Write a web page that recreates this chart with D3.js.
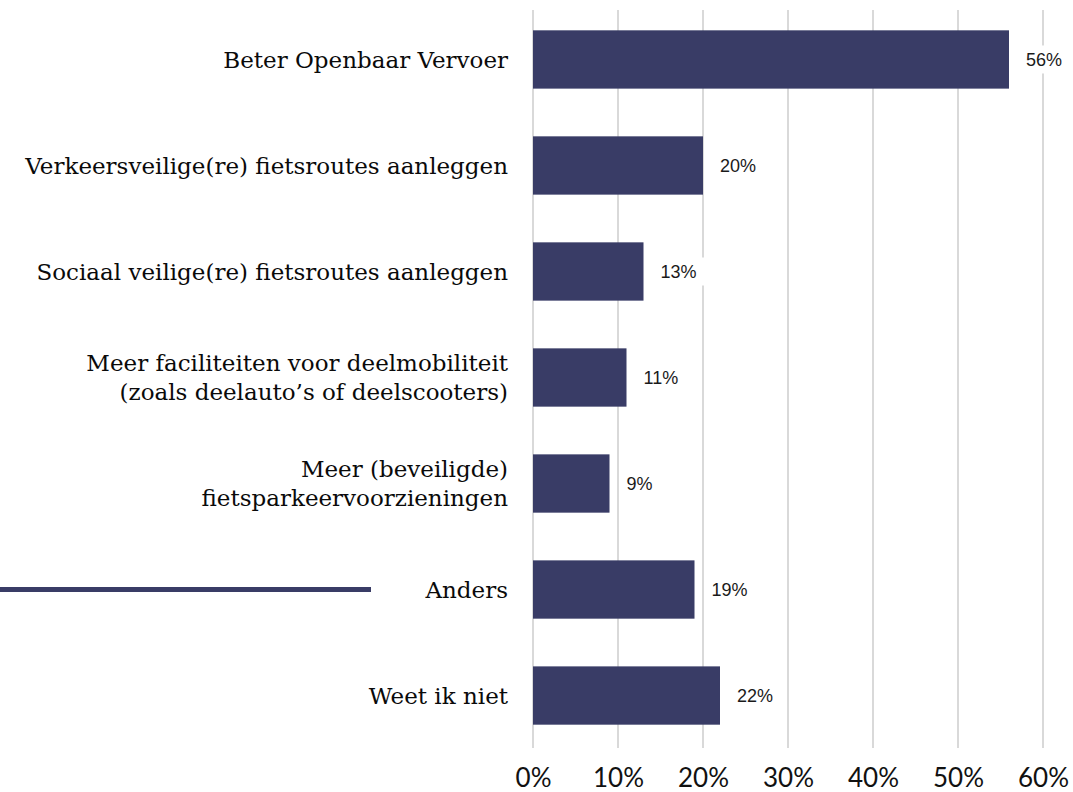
<!DOCTYPE html>
<html lang="nl">
<head>
<meta charset="utf-8">
<script src="https://d3js.org/d3.v7.min.js"></script>
<style>
body { margin: 0; background: #fff; }
.cat { font-family: "DejaVu Serif", serif; font-size: 23px; fill: #0a0a0a; }
.val { font-family: "Liberation Sans", Arial, sans-serif; font-size: 18px; fill: #1a1a1a; }
.tick text { font-family: Lato, "Open Sans", sans-serif; font-size: 26px; fill: #111; }
</style>
</head>
<body>
<svg width="1073" height="792"></svg>
<script>

var categories = [
  ["Beter Openbaar Vervoer"],
  ["Verkeersveilige(re) fietsroutes aanleggen"],
  ["Sociaal veilige(re) fietsroutes aanleggen"],
  ["Meer faciliteiten voor deelmobiliteit", "(zoals deelauto\u2019s of deelscooters)"],
  ["Meer (beveiligde)", "fietsparkeervoorzieningen"],
  ["Anders"],
  ["Weet ik niet"]
];
var values = [56, 20, 13, 11, 9, 19, 22];
var ticks = [0, 10, 20, 30, 40, 50, 60];

var svg = d3.select("svg");
var margin = {left: 533, right: 30, top: 7, bottom: 44};
var barColor = "#393c66";

var x = d3.scaleLinear().domain([0, 60]).range([0, 510]);
var y = d3.scaleBand()
    .domain(d3.range(values.length))
    .range([0, 741])
    .paddingInner(0.45)
    .paddingOuter(0.22);

var g = svg.append("g").attr("transform", "translate(" + margin.left + "," + margin.top + ")");

// gridlines
g.selectAll(".grid").data(ticks).enter().append("line")
    .attr("x1", function(d) { return x(d); })
    .attr("x2", function(d) { return x(d); })
    .attr("y1", 3).attr("y2", 741)
    .attr("stroke", "#d9d9d9").attr("stroke-width", 2);

// x axis labels
var xAxis = g.append("g")
    .attr("transform", "translate(0," + 741 + ")")
    .call(d3.axisBottom(x).tickValues(ticks).tickSize(0).tickPadding(21).tickFormat(function(d) { return d + "%"; }));
xAxis.select(".domain").remove();

// bars
g.selectAll(".bar").data(values).enter().append("rect")
    .attr("class", "bar")
    .attr("x", x(0))
    .attr("y", function(d, i) { return y(i); })
    .attr("width", function(d) { return x(d) - x(0); })
    .attr("height", y.bandwidth())
    .attr("fill", barColor);

// value labels with white background
var vl = g.selectAll(".vl").data(values).enter().append("g")
    .attr("transform", function(d, i) { return "translate(" + (x(d) + 17) + "," + (y(i) + y.bandwidth() / 2) + ")"; });
vl.append("rect").attr("x", -6).attr("y", -14).attr("width", 52).attr("height", 28).attr("fill", "#fff");
vl.append("text").attr("class", "val").attr("dy", "0.35em").text(function(d) { return d + "%"; });

// category labels
var cl = g.selectAll(".cat").data(categories).enter().append("text")
    .attr("class", "cat")
    .attr("text-anchor", "end")
    .attr("transform", function(d, i) { return "translate(-25," + (y(i) + y.bandwidth() / 2) + ")"; });
cl.selectAll("tspan").data(function(d) { return d; }).enter().append("tspan")
    .attr("x", 0)
    .attr("y", function(d, j, nodes) { return (j - (nodes.length - 1) / 2) * 29; })
    .attr("dy", "0.35em")
    .text(function(d) { return d; });

// decorative line
svg.append("line")
    .attr("x1", 0).attr("x2", 371)
    .attr("y1", margin.top + y(5) + y.bandwidth() / 2)
    .attr("y2", margin.top + y(5) + y.bandwidth() / 2)
    .attr("stroke", barColor).attr("stroke-width", 5);

</script>
</body>
</html>
